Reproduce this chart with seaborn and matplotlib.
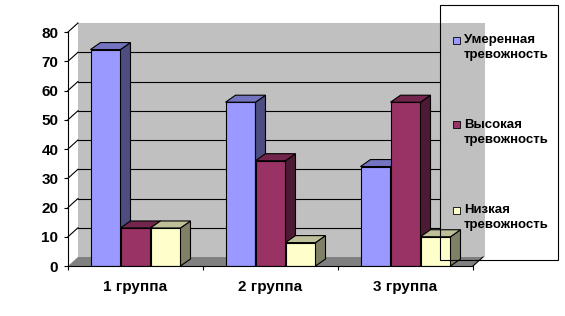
import numpy as np
import pandas as pd
import seaborn as sns
import matplotlib.pyplot as plt
from matplotlib.patches import Polygon, Rectangle
from matplotlib.colors import to_rgb

# data
groups = ['1 группа', '2 группа', '3 группа']
levels = ['Умеренная\nтревожность', 'Высокая\nтревожность', 'Низкая\nтревожность']
moderate = [74, 56, 34]
high = [13, 36, 56]
low = [13, 8, 10]
yticks = [0, 10, 20, 30, 40, 50, 60, 70, 80]
colors = ['#9999FF', '#993366', '#FFFFCC']

df = pd.DataFrame({'group': groups * 3,
                   'level': np.repeat(levels, 3),
                   'value': moderate + high + low})

plt.rcParams['font.family'] = ['Liberation Sans', 'DejaVu Sans']

W, H = 565, 316
fig = plt.figure(figsize=(W / 100, H / 100), dpi=100)
# front plane of the 3d box, in pixels
L, R, B, T = 68, 473, 266, 32
ax = fig.add_axes([L / W, 1 - B / H, (R - L) / W, (B - T) / H])
ax.patch.set_facecolor('none')

sns.barplot(data=df, x='group', y='value', hue='level', palette=colors,
            width=2 / 3, gap=0, saturation=1, edgecolor='black', linewidth=0.8,
            legend=False, ax=ax)
bars = list(ax.patches)
ax.set_xlim(-0.5, 2.5)
ax.set_ylim(0, 80)

# pixel -> data scale
sx = 3 / (R - L)
sy = 80 / (B - T)
dxw, dyw = 10 * sx, 9 * sy   # wall depth
dxb, dyb = 10 * sx, 7 * sy   # bar depth

# walls and floor
back = Rectangle((-0.5 + dxw, dyw), 3 + 2 * sx, 80, facecolor='#C0C0C0',
                 edgecolor='none', zorder=0.5, clip_on=False)
ax.add_patch(back)
side = Polygon([(-0.5, 0), (-0.5 + dxw, dyw), (-0.5 + dxw, 80 + dyw), (-0.5, 80)],
               facecolor='white', edgecolor='none', zorder=0.5, clip_on=False)
ax.add_patch(side)
floor = Polygon([(-0.5, 0), (2.5, 0), (2.5 + dxw, dyw), (-0.5 + dxw, dyw)],
                facecolor='#808080', edgecolor='none', zorder=0.6, clip_on=False)
ax.add_patch(floor)
ax.plot([2.5, 2.5 + dxw], [0, dyw], color='black', lw=0.8, clip_on=False, zorder=0.7)

# gridlines on back wall
xend = (440 - L) * sx - 0.5
for v in yticks[1:]:
    ax.plot([-0.5, -0.5 + dxw], [v, v + dyw], color='black', lw=0.8, clip_on=False, zorder=0.7)
    if v < 80:
        ax.plot([-0.5 + dxw, xend], [v + dyw, v + dyw], color='black', lw=0.8,
                clip_on=False, zorder=0.7)

# 3d faces for bars
for bar in bars:
    c = np.array(to_rgb(bar.get_facecolor()))
    h_idx = int(np.argmin([np.sum((c - np.array(to_rgb(k))) ** 2) for k in colors]))
    x0 = bar.get_x()
    x1 = x0 + bar.get_width()
    h = bar.get_height()
    z = 3 + h_idx
    bar.set_zorder(z)
    side_face = Polygon([(x1, 0), (x1 + dxb, dyb), (x1 + dxb, h + dyb), (x1, h)],
                        facecolor=c * 0.5, edgecolor='black', lw=0.8, zorder=z + 0.01,
                        clip_on=False)
    top_face = Polygon([(x0, h), (x1, h), (x1 + dxb, h + dyb), (x0 + dxb, h + dyb)],
                       facecolor=c * 0.75, edgecolor='black', lw=0.8, zorder=z + 0.02,
                       clip_on=False)
    ax.add_patch(side_face)
    ax.add_patch(top_face)

# axes
for s in ['top', 'right']:
    ax.spines[s].set_visible(False)
ax.spines['left'].set_linewidth(0.8)
ax.spines['bottom'].set_linewidth(0.8)
ax.spines['left'].set_zorder(10)
ax.spines['bottom'].set_zorder(10)
ax.set_yticks(yticks)
ax.set_xticks([0, 1, 2], labels=groups)
ax.set_xticks([-0.5, 0.5, 1.5, 2.5], minor=True)
ax.tick_params(axis='y', length=3, width=0.8, pad=4, labelsize=11)
ax.tick_params(axis='x', which='major', length=0, pad=10, labelsize=11)
ax.tick_params(axis='x', which='minor', length=3, width=0.8)
for t in ax.get_yticklabels() + ax.get_xticklabels():
    t.set_fontweight('bold')
ax.set_xlabel('')
ax.set_ylabel('')


# legend box (transparent, like the original)
def fx(px):
    return px / W


def fy(py):
    return 1 - py / H


fig.patches.append(Rectangle((fx(440), fy(260)), fx(558) - fx(440), fy(5) - fy(260),
                             transform=fig.transFigure, facecolor='none',
                             edgecolor='black', lw=0.8, zorder=20))
for i, (lab, col) in enumerate(zip(levels, colors)):
    yc = 40 + 85 * i
    fig.patches.append(Rectangle((fx(453), fy(yc + 3.5)), 7 / W, 7 / H,
                                 transform=fig.transFigure, facecolor=col,
                                 edgecolor='black', lw=0.6, zorder=21))
    fig.text(fx(464), fy(yc - 6), lab, ha='left', va='top', fontsize=9.5,
             fontweight='bold', linespacing=1.35, zorder=21)

fig.savefig('out.png', dpi=100)
